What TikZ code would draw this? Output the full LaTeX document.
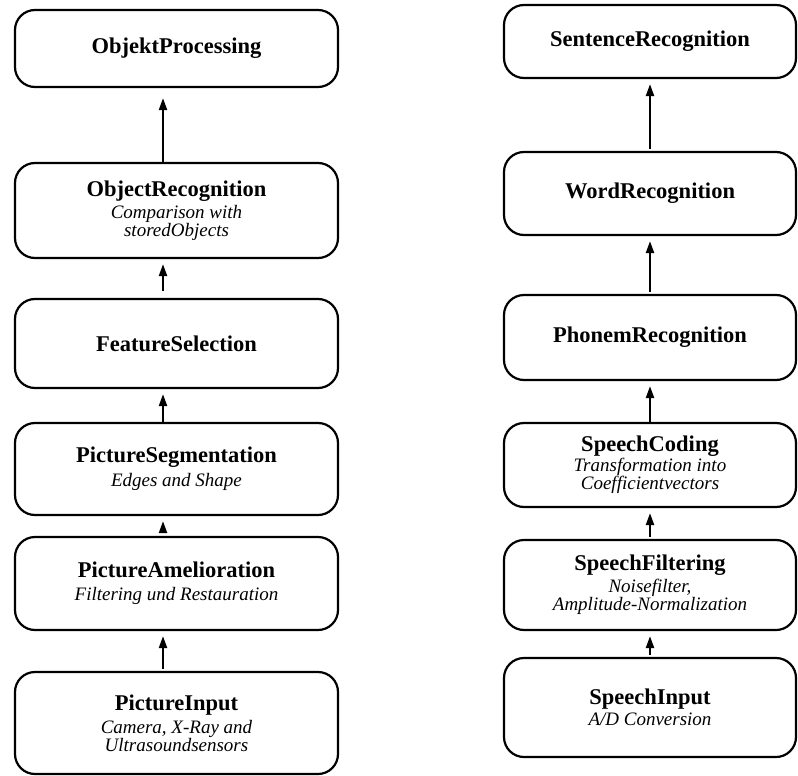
\documentclass[tikz,border=0pt]{standalone}
\usepackage{fontspec}
\setmainfont{Liberation Serif}
\usetikzlibrary{arrows.meta}
\newcommand{\stagehead}[1]{{\fontsize{22.5}{22.5}\selectfont\bfseries\upshape #1}}

\begin{document}
\begin{tikzpicture}[x=1pt,y=-1pt,
  stage/.style={draw=black, line width=2.2pt, rounded corners=20pt, inner sep=0pt,
    align=center, font=\fontsize{19}{18}\selectfont\itshape},
  lstage/.style={stage, minimum width=323pt},
  rstage/.style={stage, minimum width=292pt},
  flow/.style={-{Triangle[width=8pt,length=12pt]}, line width=2.2pt, shorten >=5pt, shorten <=2pt},
  lflow/.style={flow, transform canvas={xshift=-13.5pt}}]
\useasboundingbox (0,0) rectangle (798,776);

% picture column
\node[lstage, minimum height=77pt] (objproc) at (176.5,48.5) {\stagehead{ObjektProcessing}};
\node[lstage, minimum height=95pt] (objrec) at (176.5,210.5) {\stagehead{ObjectRecognition}\\[3pt]Comparison with\\storedObjects};
\node[lstage, minimum height=89pt] (featsel) at (176.5,343.5) {\stagehead{FeatureSelection}};
\node[lstage, minimum height=92pt] (picseg) at (176.5,469) {\stagehead{PictureSegmentation}\\[5pt]Edges and Shape};
\node[lstage, minimum height=93pt] (picamel) at (176.5,583.5) {\stagehead{PictureAmelioration}\\[5pt]Filtering und Restauration};
\node[lstage, minimum height=102pt] (picin) at (176.5,723) {\stagehead{PictureInput}\\[5pt]Camera, X-Ray and\\Ultrasoundsensors};

\draw[lflow, shorten >=10pt, shorten <=0pt] (objrec) -- (objproc);
\draw[lflow, shorten <=7pt] (featsel) -- (objrec);
\draw[lflow, shorten <=0pt] (picseg) -- (featsel);
\draw[lflow, shorten <=5pt] (picamel) -- (picseg);
\draw[lflow] (picin) -- (picamel);

% speech column
\node[rstage, minimum height=73pt] (sentrec) at (650,41.5) {\stagehead{SentenceRecognition}};
\node[rstage, minimum height=83pt] (wordrec) at (650,193.5) {\stagehead{WordRecognition}};
\node[rstage, minimum height=85pt] (phonrec) at (650,337.5) {\stagehead{PhonemRecognition}};
\node[rstage, minimum height=84pt] (spcod) at (650,465) {\stagehead{SpeechCoding}\\[1pt]Transformation into\\Coefficientvectors};
\node[rstage, minimum height=90pt] (spfilt) at (650,585) {\stagehead{SpeechFiltering}\\[3pt]Noisefilter,\\Amplitude-Normalization};
\node[rstage, minimum height=99pt] (spin) at (650,707.5) {\stagehead{SpeechInput}\\[3pt]A/D Conversion};

\draw[flow] (wordrec) -- (sentrec);
\draw[flow] (phonrec) -- (wordrec);
\draw[flow, shorten <=0pt] (spcod) -- (phonrec);
\draw[flow] (spfilt) -- (spcod);
\draw[flow] (spin) -- (spfilt);
\end{tikzpicture}
\end{document}
